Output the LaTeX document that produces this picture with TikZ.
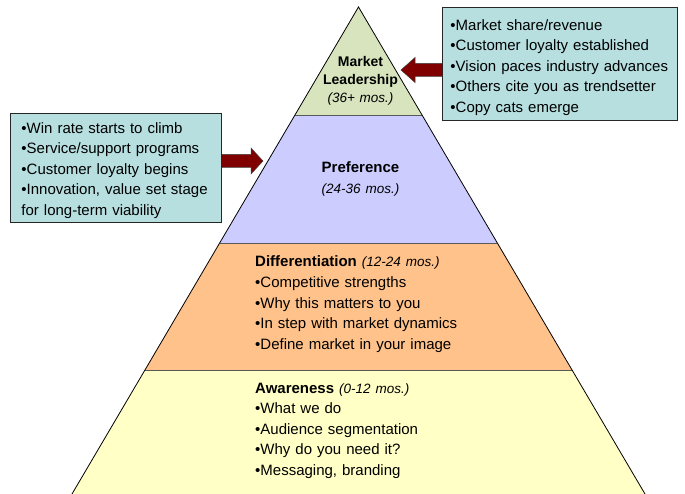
\documentclass[tikz,border=0pt]{standalone}
\usepackage{fontspec}
\setmainfont{Liberation Sans}
\usetikzlibrary{calc}

\definecolor{topgreen}{HTML}{D7E4BD}
\definecolor{prefblue}{HTML}{CCCCFF}
\definecolor{diffpeach}{HTML}{FFC28A}
\definecolor{awareyellow}{HTML}{FFFFC6}
\definecolor{boxteal}{HTML}{B7DFE0}
\definecolor{arrowred}{HTML}{800000}

% duration tag after a stage name
\newcommand{\mos}[1]{{\fontsize{13.5}{16}\selectfont\itshape #1}}

\begin{document}
\begin{tikzpicture}[x=1pt, y=-1pt,
    txt/.style={inner sep=0pt, font=\fontsize{15}{20.5}\selectfont},
    stage/.style={txt, anchor=base west, align=left, text width=230pt},
    peak/.style={txt, anchor=base, align=center, text width=130pt},
    infobox/.style={txt, draw=black!85, line width=0.9pt, fill=boxteal,
      anchor=north west, align=left},
    fatarrow/.style={fill=arrowred, draw=black!75, line width=0.5pt}]

  \useasboundingbox (0,0) rectangle (685,494);

  % corners of the pyramid
  \coordinate (apex) at (358.5,7);
  \coordinate (bl) at (72,494);
  \coordinate (br) at (645,494);

  % the four bands, top to bottom
  \foreach \ta/\tb/\col in {0/0.2218/topgreen, 0.2218/0.4846/prefblue,
      0.4846/0.7454/diffpeach, 0.7454/1/awareyellow}
    \fill[\col] ($(apex)!\ta!(bl)$) -- ($(apex)!\tb!(bl)$)
      -- ($(apex)!\tb!(br)$) -- ($(apex)!\ta!(br)$) -- cycle;

  \foreach \ta in {0.2218, 0.4846, 0.7454}
    \draw[black!65, line width=0.8pt] ($(apex)!\ta!(bl)$) -- ($(apex)!\ta!(br)$);
  \draw[line width=0.8pt] (bl) -- (apex) -- (br);

  % stage texts
  \node[peak, font=\fontsize{14}{18}\selectfont] (lead) at (360.5,66.5)
    {\textbf{Market}\\\textbf{Leadership}\\\mos{(36+ mos.)}};
  \node[peak] (pref) at (360.5,173)
    {\textbf{Preference}\\\mos{(24-36 mos.)}};
  \node[stage] (diff) at (255,267)
    {\textbf{Differentiation} \mos{(12-24 mos.)}\\
     •Competitive strengths\\
     •Why this matters to you\\
     •In step with market dynamics\\
     •Define market in your image};
  \node[stage] (aware) at (255,393)
    {\textbf{Awareness} \mos{(0-12 mos.)}\\
     •What we do\\
     •Audience segmentation\\
     •Why do you need it?\\
     •Messaging, branding};

  % side boxes and their arrows
  \coordinate (tipR) at (401,70);
  \coordinate (tipL) at (263,161);

  \node[infobox, inner xsep=8pt, text width=219pt,
        text height=23pt, text depth=90pt] (gains) at (442,7)
    {•Market share/revenue\\
     •Customer loyalty established\\
     \mbox{•Vision paces industry advances}\\
     •Others cite you as trendsetter\\
     •Copy cats emerge};

  \node[infobox, inner xsep=11pt, text width=189pt,
        text height=20pt, text depth=89pt] (drivers) at (10,113)
    {•Win rate starts to climb\\
     •Service/support programs\\
     •Customer loyalty begins\\
     •Innovation, value set stage\\
     for long-term viability};

  \draw[fatarrow] ($(gains.west |- tipR)+(0,-6.5)$) -- ($(tipR)+(14,-6.5)$)
    -- ($(tipR)+(14,-12.5)$) -- (tipR) -- ($(tipR)+(14,12.5)$)
    -- ($(tipR)+(14,6.5)$) -- ($(gains.west |- tipR)+(0,6.5)$);
  \draw[fatarrow] ($(drivers.east |- tipL)+(0,-6.5)$) -- ($(tipL)+(-12,-6.5)$)
    -- ($(tipL)+(-12,-13)$) -- (tipL) -- ($(tipL)+(-12,13)$)
    -- ($(tipL)+(-12,6.5)$) -- ($(drivers.east |- tipL)+(0,6.5)$);

\end{tikzpicture}
\end{document}
